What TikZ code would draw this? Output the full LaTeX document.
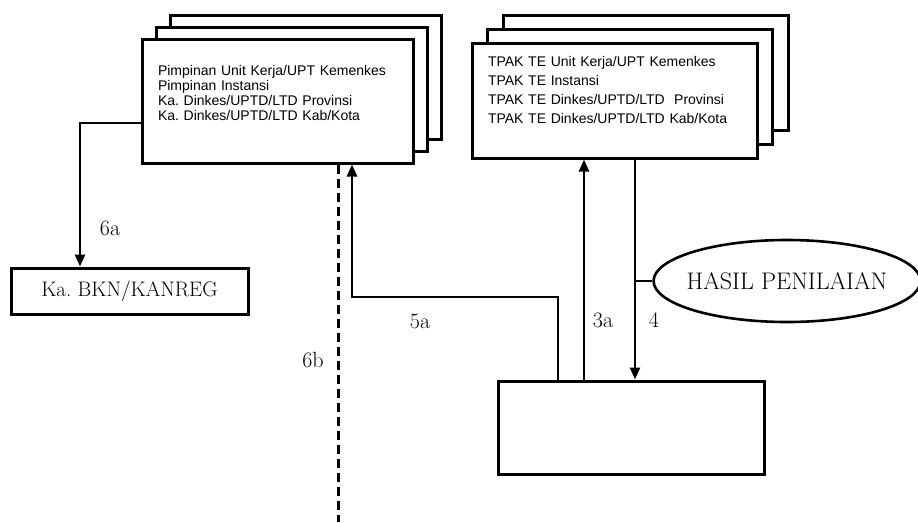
\documentclass[tikz,border=0pt]{standalone}
\usepackage{fontspec}
\newfontfamily\arialfont{Liberation Sans}
\usetikzlibrary{shapes.geometric, shadows, arrows.meta}

\begin{document}
\begin{tikzpicture}[x=1pt, y=-1pt,
  tumpuk/.style={draw, fill=white, line width=3pt, align=left, inner xsep=16pt},
  kotak/.style={draw, fill=white, line width=3pt},
  panah/.style={line width=2.6pt, -{Triangle[length=12pt, width=10pt]}},
  garis/.style={line width=2.6pt},
  putus/.style={line width=3pt, dash pattern=on 9pt off 5pt},
  angka/.style={font=\fontsize{22}{22}\selectfont}]
  \useasboundingbox (0,0) rectangle (918,522);

  \node[tumpuk, double copy shadow={shadow xshift=14pt, shadow yshift=12pt},
    minimum width=271pt, minimum height=124pt, text width=239pt,
    font=\arialfont\fontsize{14}{15}\selectfont] (pimpinan) at (277.5,101)
    {Pimpinan Unit Kerja/UPT Kemenkes\\ Pimpinan Instansi\\
     Ka.\ Dinkes/UPTD/LTD Provinsi\\ Ka.\ Dinkes/UPTD/LTD Kab/Kota\\[2pt]\mbox{}};
  \node[tumpuk, double copy shadow={shadow xshift=15.5pt, shadow yshift=14pt},
    minimum width=285pt, minimum height=115pt, text width=253pt,
    font=\arialfont\fontsize{14}{19}\selectfont] (tpak) at (614.5,100.5)
    {TPAK TE Unit Kerja/UPT Kemenkes\\ TPAK TE Instansi\\
     TPAK TE Dinkes/UPTD/LTD\ \ Provinsi\\ TPAK TE Dinkes/UPTD/LTD Kab/Kota\\[2pt]\mbox{}};
  \node[kotak, minimum width=237pt, minimum height=46pt,
    font=\fontsize{21}{21}\selectfont] (bkn) at (129.5,291) {Ka.\ BKN/KANREG};
  \node[kotak, minimum width=266pt, minimum height=93pt] (bawah) at (631,427.5) {};
  \node[draw, ellipse, line width=2.6pt, minimum width=262pt, minimum height=82pt,
    inner xsep=-6pt, inner ysep=0pt, font=\fontsize{24}{24}\selectfont] (hasil) at (787,281) {HASIL PENILAIAN};

  % jalur
  \coordinate (belok6a) at (80,123);
  \coordinate (belok5a) at (352,297);
  \coordinate (garis3a) at ([xshift=-47pt]bawah.north);
  \coordinate (garis4) at ([xshift=4pt]bawah.north);
  \coordinate (ujung6b) at (338,522);

  \draw[panah] (belok6a -| pimpinan.west) -- (belok6a) -- (belok6a |- bkn.north);
  \draw[panah] ([xshift=-73pt]bawah.north) |- (belok5a) -- (belok5a |- pimpinan.south);
  \draw[panah] (garis3a) -- (garis3a |- tpak.south);
  \draw[panah] (garis4 |- tpak.south) -- (garis4);
  \draw[garis] (hasil.west) -- (hasil.west -| garis4);
  \draw[putus] (ujung6b |- pimpinan.south) -- (ujung6b);

  \node[angka] (l6a) at (110,228) {6a};
  \node[angka] (l6b) at (313,360) {6b};
  \node[angka] (l5a) at (420,321) {5a};
  \node[angka] (l3a) at (603,320) {3a};
  \node[angka] (l4) at (654,320) {4};
\end{tikzpicture}
\end{document}
